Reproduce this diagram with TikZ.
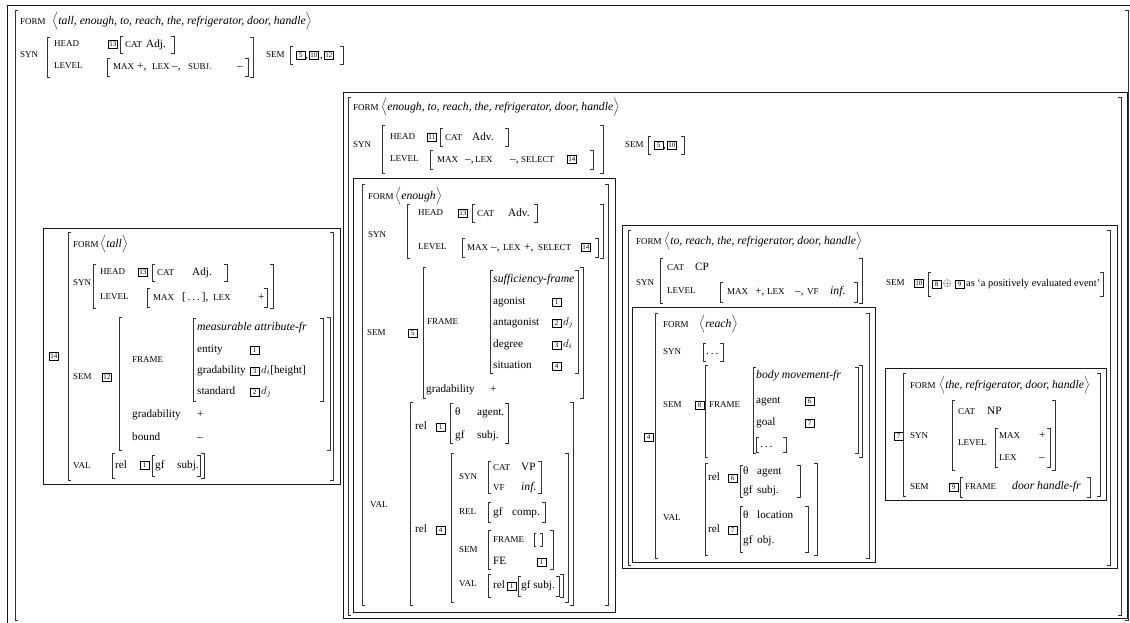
\documentclass[tikz,border=0pt]{standalone}
\usepackage{fontspec}
\setmainfont{Liberation Serif}
\newcounter{nn}
\tikzset{
  txt/.style={font=\fontsize{11.2}{13}\selectfont, anchor=mid west, inner sep=0pt},
  it/.style={txt, font=\fontsize{11.7}{13}\selectfont\itshape},
  lab/.style={font=\fontsize{9}{10}\selectfont, anchor=mid west, inner sep=0pt},
  tag/.style={draw, line width=0.5pt, font=\fontsize{7}{7}\selectfont, inner xsep=1.2pt, inner ysep=0pt, minimum width=8.5pt, minimum height=8.5pt, anchor=west},
  frame/.style={draw, line width=1pt, black!90},
  br/.style={line width=0.7pt, black!80}
}
\newcommand\Tx[4][txt]{\stepcounter{nn}\node[#1] (n\arabic{nn}) at (#2,#3) {#4};}
\newcommand\Tg[3]{\stepcounter{nn}\node[tag] (n\arabic{nn}) at (#1,#2) {#3};}
\newcommand\Brk[4]{\draw[br] ({#1+3},#2) -- (#1,#2) -- (#1,#4) -- ({#1+3},#4); \draw[br] ({#3-3},#2) -- (#3,#2) -- (#3,#4) -- ({#3-3},#4);}
\newcommand\FormTx[3]{\stepcounter{nn}\node[txt,font=\fontsize{11.7}{13}\selectfont] (n\arabic{nn}) at (#1,#2) {$\Big\langle$\textit{#3}$\Big\rangle$};}
\begin{document}
\begin{tikzpicture}[x=1pt,y=-1pt]
\useasboundingbox (0,0) rectangle (1130,622);
\clip (0,0) rectangle (1130,622);
\fill[white] (0,0) rectangle (1130,622);
% outer
\draw[frame] (7,640) -- (7,5) -- (1140,5);
\Brk{15}{10}{1128}{620}
\Tx[lab]{20}{22}{FORM}
\FormTx{52}{22}{tall, enough, to, reach, the, refrigerator, door, handle}
\Tx[lab]{20}{55}{SYN}
\Brk{47}{37}{253}{77}
\Tx[lab]{54}{44}{HEAD}
\Tg{108}{44}{13}
\Brk{120}{36}{174}{53}
\Tx[lab]{125}{45}{CAT}
\Tx{146}{45}{Adj.}
\Tx[lab]{54}{66}{LEVEL}
\Brk{107}{58}{248}{76}
\Tx[lab]{113}{67}{MAX}
\Tx{137}{67}{+,}
\Tx[lab]{152}{67}{LEX}
\Tx{172}{67}{–,}
\Tx[lab]{188}{67}{SUBJ.}
\Tx{237}{67}{–}
\Tx[lab]{266}{55}{SEM}
\Brk{290}{46}{343}{64}
\Tg{296}{55}{5}
\Tx{305}{56}{,}
\Tg{309}{55}{10}
\Tx{320}{56}{,}
\Tg{324}{55}{12}
% tall box
\draw[frame] (43,228) rectangle (340,484);
\Tg{49}{356}{14}
\Brk{68}{232}{333}{480}
\Tx[lab]{73}{245}{FORM}
\FormTx{100}{245}{tall}
\Tx[lab]{73}{283}{SYN}
\Brk{93}{264}{273}{308}
\Tx[lab]{100}{272}{HEAD}
\Tg{138}{272}{13}
\Brk{152}{264}{227}{281}
\Tx[lab]{157}{273}{CAT}
\Tx{192}{273}{Adj.}
\Tx[lab]{100}{297}{LEVEL}
\Brk{147}{288}{267}{307}
\Tx[lab]{153}{298}{MAX}
\Tx{182}{298}{[\,.\,.\,.\,],}
\Tx[lab]{213}{298}{LEX}
\Tx{258}{298}{+}
\Tx[lab]{73}{377}{SEM}
\Tg{102}{377}{12}
\Brk{119}{317}{330}{450}
\Tx[lab]{132}{360}{FRAME}
\Brk{193}{318}{323}{401}
\Tx[it]{197}{328}{measurable attribute-fr}
\Tx{197}{350}{entity}
\Tg{250}{350}{1}
\Tx{197}{371}{gradability}
\Tg{250}{371}{3}
\Tx{261}{371}{$d_i$[height]}
\Tx{197}{392}{standard}
\Tg{250}{392}{2}
\Tx{261}{392}{$d_j$}
\Tx{132}{415}{gradability}
\Tx{197}{415}{+}
\Tx{132}{438}{bound}
\Tx{197}{438}{–}
\Tx[lab]{73}{466}{VAL}
\Brk{112}{453}{204}{478}
\Tx{115}{466}{rel}
\Tg{140}{465}{1}
\Brk{152}{455}{200}{476}
\Tx{155}{466}{gf}
\Tx{177}{466}{subj.}
% middle box
\draw[frame] (343,92) rectangle (1127,618);
\Brk{348}{97}{1121}{615}
\Tx[lab]{353}{108}{FORM}
\FormTx{381}{108}{enough, to, reach, the, refrigerator, door, handle}
\Tx[lab]{353}{145}{SYN}
\Brk{382}{125}{603}{173}
\Tx[lab]{390}{137}{HEAD}
\Tg{427}{137}{11}
\Brk{440}{128}{508}{146}
\Tx[lab]{445}{138}{CAT}
\Tx{472}{138}{Adv.}
\Tx[lab]{390}{159}{LEVEL}
\Brk{430}{150}{593}{169}
\Tx[lab]{437}{160}{MAX}
\Tx{465}{160}{–,}
\Tx[lab]{475}{160}{LEX}
\Tx{510}{160}{–,}
\Tx[lab]{521}{160}{SELECT}
\Tg{567}{159}{14}
\Tx[lab]{625}{145}{SEM}
\Brk{648}{136}{684}{154}
\Tg{654}{145}{5}
\Tx{663}{146}{,}
\Tg{667}{145}{10}
% enough box
\draw[frame] (353,178) rectangle (615,612);
\Brk{362}{184}{608}{605}
\Tx[lab]{368}{197}{FORM}
\FormTx{395}{197}{enough}
\Tx[lab]{368}{235}{SYN}
\Brk{407}{204}{603}{258}
\Tx[lab]{418}{213}{HEAD}
\Tg{458}{213}{13}
\Brk{472}{204}{537}{222}
\Tx[lab]{477}{214}{CAT}
\Tx{508}{214}{Adv.}
\Tx[lab]{418}{247}{LEVEL}
\Brk{462}{238}{598}{257}
\Tx[lab]{467}{248}{MAX}
\Tx{491}{248}{–,}
\Tx[lab]{503}{248}{LEX}
\Tx{524}{248}{+,}
\Tx[lab]{538}{248}{SELECT}
\Tg{581}{247}{14}
\Tx[lab]{367}{333}{SEM}
\Tg{408}{333}{5}
\Brk{423}{267}{583}{398}
\Tx[lab]{427}{322}{FRAME}
\Brk{490}{270}{578}{373}
\Tx[it]{493}{280}{sufficiency-frame}
\Tx{493}{302}{agonist}
\Tg{552}{302}{1}
\Tx{493}{323}{antagonist}
\Tg{552}{323}{2}
\Tx{563}{323}{$d_j$}
\Tx{493}{345}{degree}
\Tg{552}{345}{3}
\Tx{563}{345}{$d_i$}
\Tx{493}{366}{situation}
\Tg{552}{366}{4}
\Tx{426}{390}{gradability}
\Tx{490}{390}{+}
\Tx[lab]{370}{505}{VAL}
\Brk{410}{402}{573}{605}
\Tx{415}{427}{rel}
\Tg{436}{427}{1}
\Brk{450}{403}{508}{443}
\Tx{455}{413}{θ}
\Tx{477}{413}{agent.}
\Tx{455}{436}{gf}
\Tx{477}{436}{subj.}
\Tx{415}{530}{rel}
\Tg{436}{530}{4}
\Brk{451}{453}{568}{602}
\Tx[lab]{459}{477}{SYN}
\Brk{488}{461}{541}{493}
\Tx[lab]{493}{468}{CAT}
\Tx{521}{468}{VP}
\Tx[lab]{493}{488}{VF}
\Tx[it]{521}{488}{inf.}
\Tx[lab]{459}{512}{REL}
\Brk{488}{502}{545}{522}
\Tx{493}{513}{gf}
\Tx{512}{513}{comp.}
\Tx[lab]{459}{550}{SEM}
\Brk{488}{530}{553}{569}
\Tx[lab]{493}{540}{FRAME}
\draw[br] (536,533) -- (534,533) -- (534,546) -- (536,546);
\draw[br] (540,533) -- (542,533) -- (542,546) -- (540,546);
\Tx{493}{562}{FE}
\Tg{537}{562}{1}
\Tx[lab]{459}{584}{VAL}
\Brk{488}{574}{563}{597}
\Tx{493}{586}{rel}
\Tg{507}{586}{1}
\Brk{518}{576}{559}{596}
\Tx{521}{586}{gf subj.}
% to-reach box
\draw[frame] (622,225) rectangle (1117,568);
\Brk{628}{230}{1110}{565}
\Tx[lab]{636}{242}{FORM}
\FormTx{664}{242}{to, reach, the, refrigerator, door, handle}
\Tx[lab]{636}{283}{SYN}
\Brk{660}{258}{862}{303}
\Tx[lab]{667}{268}{CAT}
\Tx{695}{268}{CP}
\Tx[lab]{667}{291}{LEVEL}
\Brk{720}{282}{857}{302}
\Tx[lab]{727}{292}{MAX}
\Tx{755}{292}{+,}
\Tx[lab]{767}{292}{LEX}
\Tx{795}{292}{–,}
\Tx[lab]{807}{292}{VF}
\Tx[it]{830}{292}{inf.}
\Tx[lab]{886}{283}{SEM}
\Tg{914}{283}{10}
\Brk{928}{272}{1103}{296}
\Tg{932}{284}{8}
\Tx{943}{284}{$\oplus$}
\Tg{955}{284}{9}
\Tx[txt,font=\fontsize{10.4}{12}\selectfont]{966}{284}{as ‘a positively evaluated event’}
% reach box
\draw[frame] (632,307) rectangle (875,562);
\Tg{644}{437}{4}
\Brk{655}{313}{869}{558}
\Tx[lab]{663}{325}{FORM}
\FormTx{699}{325}{reach}
\Tx[lab]{663}{352}{SYN}
\Brk{703}{343}{723}{361}
\Tx{706}{352}{.\,.\,.}
\Tx[lab]{663}{405}{SEM}
\Tg{695}{405}{8}
\Brk{705}{365}{862}{457}
\Tx[lab]{709}{405}{FRAME}
\Brk{753}{367}{858}{453}
\Tx[it]{756}{376}{body movement-fr}
\Tx{756}{401}{agent}
\Tg{805}{401}{6}
\Tx{756}{423}{goal}
\Tg{805}{423}{7}
\Brk{756}{437}{786}{452}
\Tx{760}{445}{.\,.\,.}
\Tx[lab]{663}{518}{VAL}
\Brk{705}{463}{817}{555}
\Tx{708}{478}{rel}
\Tg{728}{478}{6}
\Brk{740}{465}{800}{497}
\Tx{743}{472}{θ}
\Tx{757}{472}{agent}
\Tx{743}{491}{gf}
\Tx{757}{491}{subj.}
\Tx{708}{530}{rel}
\Tg{728}{530}{7}
\Brk{740}{506}{808}{552}
\Tx{743}{516}{θ}
\Tx{757}{516}{location}
\Tx{743}{541}{gf}
\Tx{757}{541}{obj.}
% fridge box
\draw[frame] (885,368) rectangle (1106,500);
\Tg{894}{436}{7}
\Brk{903}{373}{1100}{496}
\Tx[lab]{910}{386}{FORM}
\FormTx{939}{386}{the, refrigerator, door, handle}
\Tx[lab]{910}{436}{SYN}
\Brk{952}{400}{1055}{470}
\Tx[lab]{958}{412}{CAT}
\Tx{987}{412}{NP}
\Tx[lab]{958}{443}{LEVEL}
\Brk{995}{428}{1050}{467}
\Tx[lab]{999}{436}{MAX}
\Tx{1039}{436}{+}
\Tx[lab]{999}{458}{LEX}
\Tx{1039}{458}{–}
\Tx[lab]{910}{487}{SEM}
\Tg{949}{487}{9}
\Brk{960}{477}{1090}{497}
\Tx[lab]{965}{487}{FRAME}
\Tx[it]{1012}{487}{door handle-fr}
\end{tikzpicture}
\end{document}
